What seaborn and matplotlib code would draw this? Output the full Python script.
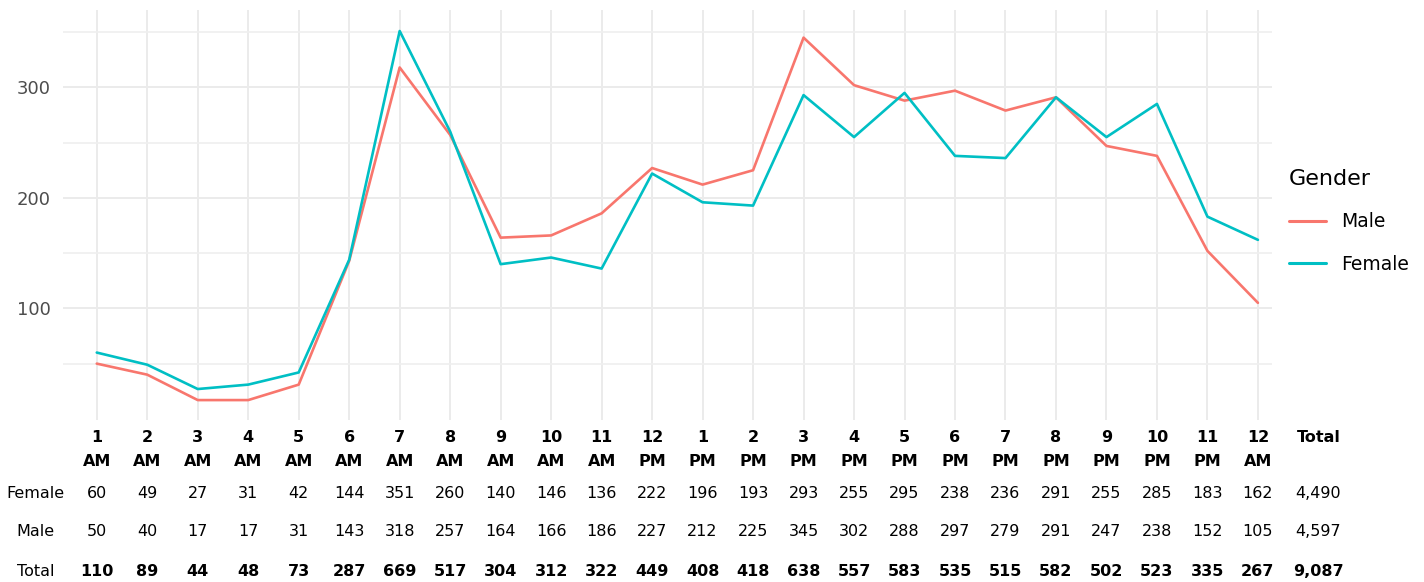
import pandas as pd
import numpy as np
import matplotlib.pyplot as plt
import matplotlib.transforms as mtransforms
import seaborn as sns

# --- data ---
hour_labels = ["1 AM", "2 AM", "3 AM", "4 AM", "5 AM", "6 AM", "7 AM", "8 AM",
               "9 AM", "10 AM", "11 AM", "12 PM", "1 PM", "2 PM", "3 PM", "4 PM",
               "5 PM", "6 PM", "7 PM", "8 PM", "9 PM", "10 PM", "11 PM", "12 AM"]
female = [60, 49, 27, 31, 42, 144, 351, 260, 140, 146, 136, 222,
          196, 193, 293, 255, 295, 238, 236, 291, 255, 285, 183, 162]
male = [50, 40, 17, 17, 31, 143, 318, 257, 164, 166, 186, 227,
        212, 225, 345, 302, 288, 297, 279, 291, 247, 238, 152, 105]
totals = [110, 89, 44, 48, 73, 287, 669, 517, 304, 312, 322, 449,
          408, 418, 638, 557, 583, 535, 515, 582, 502, 523, 335, 267]
row_totals = {"Female": "4,490", "Male": "4,597", "Total": "9,087"}

hours = list(range(1, len(hour_labels) + 1))
df = pd.DataFrame({
    "hour": hours * 2,
    "count": male + female,
    "Gender": ["Male"] * len(male) + ["Female"] * len(female),
})

sns.set_theme(style="white")
plt.rcParams['font.family'] = ['DejaVu Sans']

fig = plt.figure(figsize=(14.24, 5.82), dpi=100)
ax = fig.add_axes([0.0442, 0.2784, 0.8491, 0.7044])

sns.lineplot(data=df, x="hour", y="count", hue="Gender", hue_order=["Male", "Female"],
             palette={"Male": "#F8766D", "Female": "#00BFC4"}, linewidth=1.9, ax=ax)

ax.set_xlim(0.33, 24.28)
ax.set_ylim(-1, 370)
ax.set_xticks(hours)
ax.set_xticklabels([])
ax.set_yticks([100, 200, 300])
ax.set_yticks([50, 150, 250, 350], minor=True)
ax.grid(True, which="major", color="#EBEBEB", linewidth=1.4)
ax.grid(True, which="minor", axis="y", color="#EFEFEF", linewidth=1.2)
ax.set_axisbelow(True)
ax.tick_params(axis="y", length=0, pad=9, labelsize=13, labelcolor="#4D4D4D")
ax.tick_params(axis="x", length=0)
ax.set_xlabel("")
ax.set_ylabel("")
for s in ax.spines.values():
    s.set_visible(False)

handles, labels = ax.get_legend_handles_labels()
leg = ax.legend(handles, labels, title="Gender", loc="upper left",
                bbox_to_anchor=(1.014, 0.613), frameon=False, fontsize=13.5,
                title_fontsize=16, handlelength=2.0, labelspacing=1.25,
                borderaxespad=0, borderpad=0)
leg._legend_box.align = "left"
leg.get_title().set_color("black")
for t in leg.get_texts():
    t.set_color("black")
for ln in leg.get_lines():
    ln.set_linewidth(2.2)

# --- table below the chart, columns aligned with the hours ---
tf = ["Liberation Sans Narrow", "DejaVu Sans"]
trans = mtransforms.blended_transform_factory(ax.transData, fig.transFigure)
y_num, y_ampm = 1 - 437 / 582, 1 - 462 / 582
y_rows = {"Female": 1 - 493 / 582, "Male": 1 - 532 / 582, "Total": 1 - 571 / 582}
tkw = dict(transform=trans, ha="center", va="center", fontsize=11.5,
           family=tf, color="black", clip_on=False)

for h, lab in zip(hours, hour_labels):
    num, ap = lab.split()
    ax.text(h, y_num, num, fontweight="bold", **tkw)
    ax.text(h, y_ampm, ap, fontweight="bold", **tkw)
ax.text(25.2, y_num, "Total", fontweight="bold", **tkw)

for name, vals in [("Female", female), ("Male", male), ("Total", totals)]:
    bold = "bold" if name == "Total" else "normal"
    ax.text(-0.21, y_rows[name], name, **tkw)
    for h, v in zip(hours, vals):
        ax.text(h, y_rows[name], str(v), fontweight=bold, **tkw)
    ax.text(25.2, y_rows[name], row_totals[name], fontweight=bold, **tkw)

fig.savefig("out.png", dpi=100)
